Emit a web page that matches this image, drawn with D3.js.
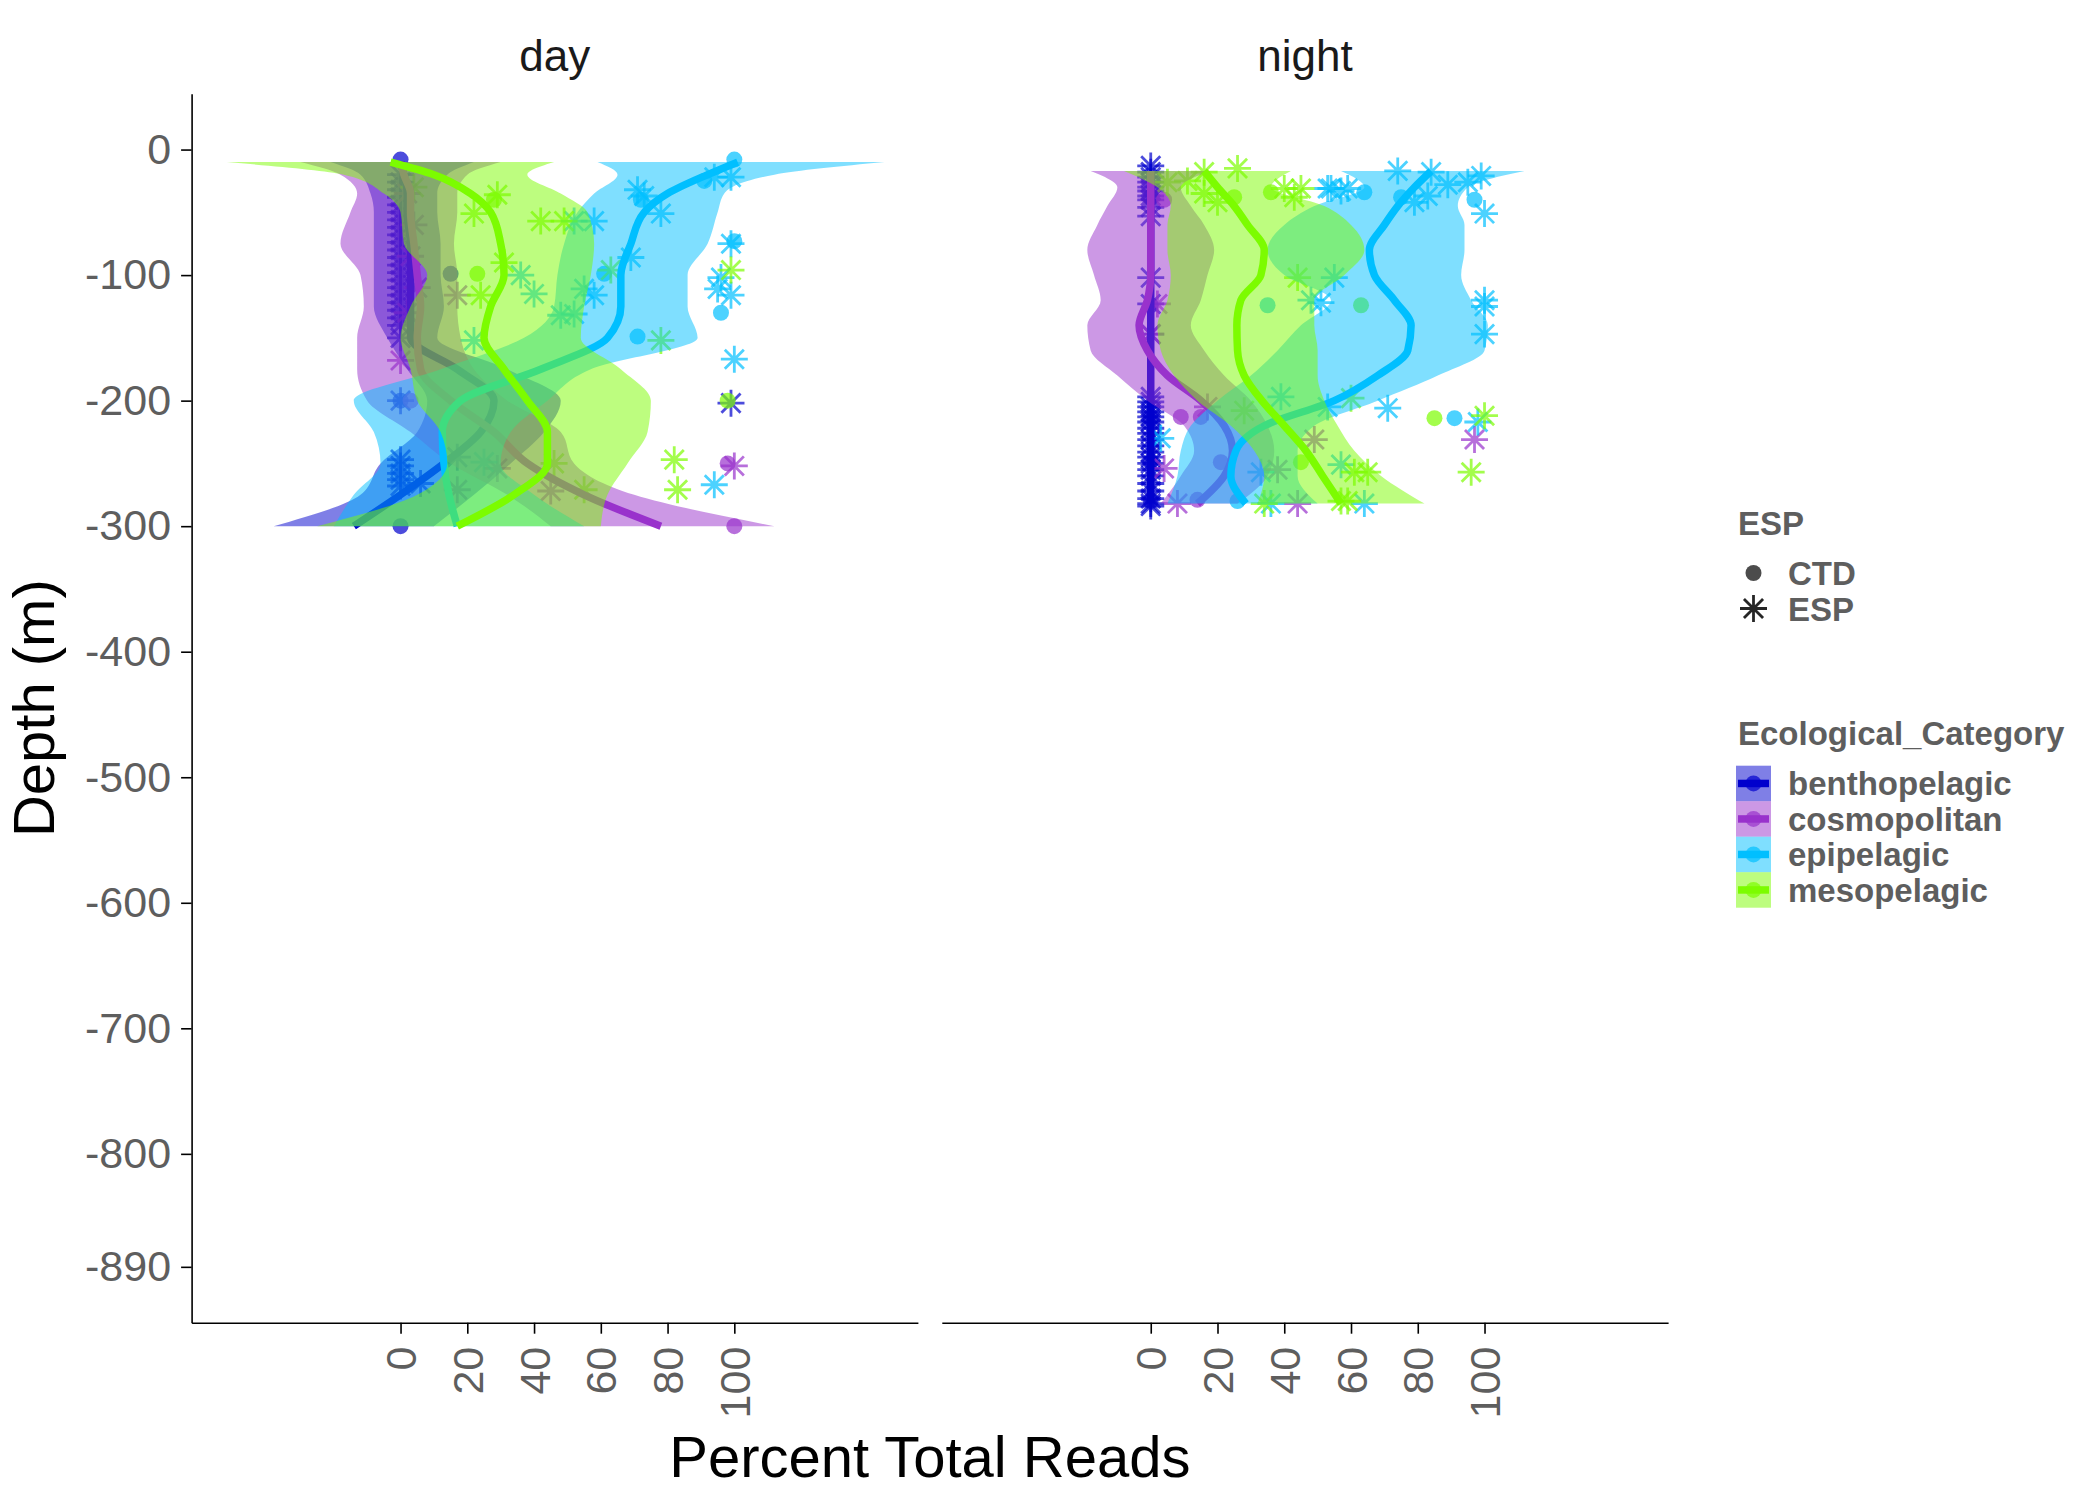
<!DOCTYPE html>
<html><head><meta charset="utf-8">
<script src="https://cdn.jsdelivr.net/npm/d3@7"></script>
<style>
body{margin:0;background:#fff}
svg{display:block}
text{font-family:"Liberation Sans",Arial,Helvetica,sans-serif}
</style>
</head><body>
<svg id="chart" width="2100" height="1500"></svg>
<script>
// ---------------- data ----------------
const categories = ["benthopelagic","cosmopolitan","epipelagic","mesopelagic"];
const palette = ["#0000CD","#9932CC","#00BFFF","#7CFC00"];
const panels = ["day","night"];
const shapeLevels = ["CTD","ESP"];
const xTicks = [0,20,40,60,80,100];
const yTicks = [0,-100,-200,-300,-400,-500,-600,-700,-800,-890];

// loess fits (x = percent) and confidence band, at depth grid
const dayDepth = [-10,-20,-35,-50,-75,-100,-125,-150,-175,-200,-225,-250,-275,-300];
const day_benthopelagic_fit = [0,1,2,2,3,3,3,3,17,28,24,13,0,-14];
const day_benthopelagic_lo  = [-21,-12,-9,-8,-8,-8,-8,-4,2,8,5,-6,-12,-38];
const day_benthopelagic_hi  = [22,14,11,11,12,12,13,11,32,48,43,33,22,10];
const day_cosmopolitan_fit  = [0,1,3,3,4,5,6,5,6,15,28,38,55,78];
const day_cosmopolitan_lo   = [-30,-18,-13,-15,-18,-12,-11,-13,-13,-10,3,15,32,45];
const day_cosmopolitan_hi   = [30,20,17,17,16,17,17,18,22,32,48,52,70,112];
const day_epipelagic_fit    = [101,92,80,73,69,66,66,62,42,18,12.5,13,14.5,17];
const day_epipelagic_lo     = [59,65,58,53,49,47,46,37,12,-14,-8,-6,-14,-20];
const day_epipelagic_hi     = [145,112,97,95,92,86,86,89,57,44,33,30,40,55];
const day_mesopelagic_fit   = [-3,10,21,27,30,31,27,25,31,38,44,44,34,17];
const day_mesopelagic_lo    = [-52,-17,-5,0,1,8,3,0,3,5,12,14,5,-25];
const day_mesopelagic_hi    = [46,38,48,56,58,57,55,54,66,75,74,68,62,60];

const nightDepth = [-17,-30,-45,-60,-80,-100,-120,-140,-160,-180,-200,-220,-240,-260,-282];
const night_benthopelagic_fit = [0,0,0,0,0,0,0,0,0,0,0,0,0,0,0];
const night_benthopelagic_lo  = [-0.5,-0.5,-0.5,-0.5,-0.5,-0.5,-0.5,-0.5,-0.5,-0.5,-0.5,-0.5,-0.5,-0.5,-0.5];
const night_benthopelagic_hi  = [0.5,0.5,0.5,0.5,0.5,0.5,0.5,0.5,0.5,0.5,0.5,0.5,0.5,0.5,0.5];
const night_cosmopolitan_fit  = [0,0,0,0,0,0,-1,-3.5,-1,5,15,22,24.5,22,14];
const night_cosmopolitan_lo   = [-18,-10,-13,-16,-19,-17,-15,-19,-18,-10,-1,10,13,9,3];
const night_cosmopolitan_hi   = [18,9,12,16,19,17,15,12,16,22,30,35,37,35,26];
const night_epipelagic_fit    = [84,79,74,70,65.5,67,73,78,77,68,55,34,25.5,24,28.5];
const night_epipelagic_lo     = [57,64,49,40,35,40,54,45,38,30,20,12,9,8,5];
const night_epipelagic_hi     = [112,95,92,94,94,93,96,101,100,86,68,49,44,44,50];
const night_mesopelagic_fit   = [16,20,25,29,34,33,27,25.8,26,28,33.3,40,46.5,51.5,57];
const night_mesopelagic_lo    = [-8,2,6,5,5,6,5,2,3,7,14,24,31,34,32];
const night_mesopelagic_hi    = [42,36,52,60,64,58,49,49,50,50,52,56,61,69,82];

// observations [percent, depth]
const day_benthopelagic_CTD = [[0,-8],[15,-99],[0,-200],[0,-300]];
const day_benthopelagic_ESP = [[0,-20],[0,-26],[0,-32],[0,-38],[0,-44],[0,-50],[0,-56],[0,-62],[0,-68],[0,-74],[0,-80],[0,-86],[0,-92],[0,-98],[0,-104],[0,-110],[0,-116],[0,-122],[0,-128],[0,-134],[0,-140],[0,-150],[0,-200],[0,-247],[0,-252],[0,-258],[0,-263],[0,-268],[99,-202],[17,-245],[6,-266]];
const day_cosmopolitan_CTD = [[3,-200],[98,-250],[100,-300]];
const day_cosmopolitan_ESP = [[2,-35],[4,-60],[3,-85],[5,-110],[2,-130],[0,-168],[17,-116],[29,-254],[17,-271],[45,-272],[100,-252]];
const day_epipelagic_CTD = [[100,-8],[91,-25],[72,-40],[61,-99],[100,-73],[96,-130],[71,-149]];
const day_epipelagic_ESP = [[94,-22],[99,-22],[71,-32],[73,-37],[78,-51],[58,-57],[52,-57],[69,-86],[99,-75],[36,-100],[96,-102],[40,-115],[55,-111],[58,-116],[95,-111],[99,-116],[52,-131],[48,-132],[22,-152],[100,-167],[25,-249],[94,-267]];
const day_mesopelagic_CTD = [[28,-40],[23,-99],[98,-200]];
const day_mesopelagic_ESP = [[4,-30],[29,-36],[22,-51],[42,-57],[49,-57],[31,-90],[63,-96],[99,-96],[24,-116],[78,-152],[46,-250],[82,-247],[55,-271],[83,-271]];

const night_benthopelagic_CTD = [[0,-38],[0,-124],[0,-214],[0,-249],[0,-280]];
const night_benthopelagic_ESP = [[0,-13],[0,-18],[0,-22],[0,-26],[0,-30],[0,-33],[0,-37],[0,-40],[0,-46],[0,-53],[0,-102],[0,-123],[0,-147],[0,-197],[0,-201],[0,-205],[0,-209],[0,-213],[0,-217],[0,-222],[0,-226],[0,-231],[0,-236],[0,-241],[0,-245],[0,-250],[0,-255],[0,-260],[0,-266],[0,-272],[0,-278],[0,-282],[0,-284]];
const night_cosmopolitan_CTD = [[4,-40],[9,-213],[15,-213],[21,-249],[14,-279]];
const night_cosmopolitan_ESP = [[2,-123],[0,-147],[17,-205],[49,-231],[97,-231],[4,-254],[38,-255],[8,-282],[44,-282]];
const night_epipelagic_CTD = [[64,-34],[75,-38],[97,-40],[35,-124],[91,-214],[26,-280]];
const night_epipelagic_ESP = [[74,-17],[84,-18],[99,-21],[95,-26],[89,-28],[53,-31],[54,-31],[59,-31],[57,-33],[83,-37],[79,-42],[100,-51],[55,-102],[48,-120],[51,-122],[100,-120],[100,-125],[100,-147],[39,-197],[53,-205],[71,-206],[98,-217],[3,-230],[57,-251],[33,-257],[36,-282],[64,-282]];
const night_mesopelagic_CTD = [[36,-34],[25,-38],[63,-124],[85,-214],[45,-249]];
const night_mesopelagic_ESP = [[26,-15],[16,-18],[5,-26],[11,-25],[16,-35],[40,-31],[45,-31],[20,-42],[43,-38],[44,-102],[60,-198],[28,-208],[100,-212],[96,-257],[61,-257],[65,-257],[34,-282],[57,-280],[59,-280]];

// ---------------- assemble ----------------
const smooth = {
  day: {depth: dayDepth,
    fit:[day_benthopelagic_fit,day_cosmopolitan_fit,day_epipelagic_fit,day_mesopelagic_fit],
    lo:[day_benthopelagic_lo,day_cosmopolitan_lo,day_epipelagic_lo,day_mesopelagic_lo],
    hi:[day_benthopelagic_hi,day_cosmopolitan_hi,day_epipelagic_hi,day_mesopelagic_hi]},
  night: {depth: nightDepth,
    fit:[night_benthopelagic_fit,night_cosmopolitan_fit,night_epipelagic_fit,night_mesopelagic_fit],
    lo:[night_benthopelagic_lo,night_cosmopolitan_lo,night_epipelagic_lo,night_mesopelagic_lo],
    hi:[night_benthopelagic_hi,night_cosmopolitan_hi,night_epipelagic_hi,night_mesopelagic_hi]}
};
const obs = {
  day: [[day_benthopelagic_CTD,day_benthopelagic_ESP],[day_cosmopolitan_CTD,day_cosmopolitan_ESP],[day_epipelagic_CTD,day_epipelagic_ESP],[day_mesopelagic_CTD,day_mesopelagic_ESP]],
  night: [[night_benthopelagic_CTD,night_benthopelagic_ESP],[night_cosmopolitan_CTD,night_cosmopolitan_ESP],[night_epipelagic_CTD,night_epipelagic_ESP],[night_mesopelagic_CTD,night_mesopelagic_ESP]]
};

// ---------------- layout ----------------
const svg = d3.select("#chart");
const panelTop = 93.7, panelBottom = 1322.7;
const panelX = [[191.6,917.9],[941.8,1668.1]];
const y = d3.scaleLinear().domain([-934.5,44.5]).range([panelBottom, panelTop]);
const textGrey = "#5e5e5e";
const ptAlpha = 0.7, ribAlpha = 0.5, lineW = 7.5, ptR = 8, astR = 13.5, astW = 2.8;

function asteriskPath(r){
  const d = r*Math.SQRT1_2;
  return `M${-r},0H${r}M0,${-r}V${r}M${-d},${-d}L${d},${d}M${-d},${d}L${d},${-d}`;
}

panels.forEach((p, pi) => {
  const x = d3.scaleLinear().domain([-62.6,155]).range(panelX[pi]);
  const clipId = "clip-" + p;
  svg.append("clipPath").attr("id", clipId).append("rect")
    .attr("x", panelX[pi][0]).attr("y", panelTop)
    .attr("width", panelX[pi][1]-panelX[pi][0]).attr("height", panelBottom-panelTop);
  const g = svg.append("g").attr("clip-path", `url(#${clipId})`);

  // points
  categories.forEach((c, ci) => {
    const [ctd, esp] = obs[p][ci];
    g.selectAll(null).data(ctd).enter().append("circle")
      .attr("cx", d => x(d[0])).attr("cy", d => y(d[1])).attr("r", ptR)
      .attr("fill", palette[ci]).attr("fill-opacity", ptAlpha);
    g.selectAll(null).data(esp).enter().append("path")
      .attr("d", asteriskPath(astR))
      .attr("transform", d => `translate(${x(d[0])},${y(d[1])})`)
      .attr("fill", "none").attr("stroke", palette[ci]).attr("stroke-opacity", ptAlpha)
      .attr("stroke-width", astW);
  });

  // smooth ribbons and lines per group
  const S = smooth[p];
  categories.forEach((c, ci) => {
    const rows = S.depth.map((dep, i) => ({dep, fit:S.fit[ci][i], lo:S.lo[ci][i], hi:S.hi[ci][i]}));
    const area = d3.area().curve(d3.curveMonotoneY)
      .y(d => y(d.dep)).x0(d => x(d.lo)).x1(d => x(d.hi));
    g.append("path").attr("d", area(rows))
      .attr("fill", palette[ci]).attr("fill-opacity", ribAlpha);
    const line = d3.line().curve(d3.curveMonotoneY)
      .y(d => y(d.dep)).x(d => x(d.fit));
    g.append("path").attr("d", line(rows))
      .attr("fill", "none").attr("stroke", palette[ci]).attr("stroke-width", lineW);
  });

  // strip label
  svg.append("text").attr("x", (panelX[pi][0]+panelX[pi][1])/2).attr("y", 71)
    .attr("text-anchor", "middle").attr("font-size", 44).attr("fill", "#1a1a1a").text(p);

  // x axis
  const xa = svg.append("g").attr("transform", `translate(0,${panelBottom})`)
    .call(d3.axisBottom(x).tickValues(xTicks).tickSize(11).tickSizeOuter(0));
  xa.select(".domain").attr("stroke", "#000").attr("stroke-width", 1.6);
  xa.selectAll(".tick line").attr("stroke", "#000").attr("stroke-width", 1.6);
  xa.selectAll(".tick text")
    .attr("transform", "rotate(-90)").attr("x", -24).attr("y", 0).attr("dy", "0.35em")
    .style("text-anchor", "end").attr("font-size", 43).attr("fill", textGrey)
    .attr("font-family", '"Liberation Sans",Arial,sans-serif');

  if (pi === 0) {
    const ya = svg.append("g").attr("transform", `translate(${panelX[0][0]},0)`)
      .call(d3.axisLeft(y).tickValues(yTicks).tickFormat(d => String(d)).tickSize(10.5).tickPadding(10).tickSizeOuter(0));
    ya.select(".domain").attr("stroke", "#000").attr("stroke-width", 1.6);
    ya.selectAll(".tick line").attr("stroke", "#000").attr("stroke-width", 1.6);
    ya.selectAll(".tick text").attr("font-size", 43).attr("fill", textGrey)
      .attr("font-family", '"Liberation Sans",Arial,sans-serif');
  }
});

// axis titles
svg.append("text").attr("x", (panelX[0][0]+panelX[1][1])/2).attr("y", 1477)
  .attr("text-anchor", "middle").attr("font-size", 58).attr("fill", "#000").text("Percent Total Reads");
svg.append("text").attr("transform", `translate(54,${(panelTop+panelBottom)/2}) rotate(-90)`)
  .attr("text-anchor", "middle").attr("font-size", 58).attr("fill", "#000").text("Depth (m)");

// legends
const lgFont = 33;
const lg = svg.append("g");
lg.append("text").attr("x", 1738).attr("y", 535).attr("font-size", lgFont).attr("font-weight", "bold")
  .attr("fill", textGrey).text("ESP");
shapeLevels.forEach((s, i) => {
  const cy = 573 + i*35.5;
  if (i === 0) {
    lg.append("circle").attr("cx", 1753.5).attr("cy", cy).attr("r", ptR).attr("fill", "#000").attr("fill-opacity", ptAlpha);
  } else {
    lg.append("path").attr("d", asteriskPath(astR)).attr("transform", `translate(1753.5,${cy})`)
      .attr("fill", "none").attr("stroke", "#000").attr("stroke-opacity", 0.85).attr("stroke-width", astW);
  }
  lg.append("text").attr("x", 1788).attr("y", cy + 12).attr("font-size", lgFont).attr("font-weight", "bold")
    .attr("fill", textGrey).text(s);
});
lg.append("text").attr("x", 1738).attr("y", 745).attr("font-size", lgFont).attr("font-weight", "bold")
  .attr("fill", textGrey).text("Ecological_Category");
categories.forEach((c, i) => {
  const ky = 765.7 + i*35.5, cy = ky + 17.75;
  lg.append("rect").attr("x", 1736).attr("y", ky).attr("width", 35).attr("height", 35.5)
    .attr("fill", palette[i]).attr("fill-opacity", ribAlpha);
  lg.append("line").attr("x1", 1738).attr("x2", 1769).attr("y1", cy).attr("y2", cy)
    .attr("stroke", palette[i]).attr("stroke-width", lineW);
  lg.append("circle").attr("cx", 1753.5).attr("cy", cy).attr("r", ptR)
    .attr("fill", palette[i]).attr("fill-opacity", ptAlpha);
  lg.append("text").attr("x", 1788).attr("y", cy + 12).attr("font-size", lgFont).attr("font-weight", "bold")
    .attr("fill", textGrey).text(c);
});
</script>
</body></html>
